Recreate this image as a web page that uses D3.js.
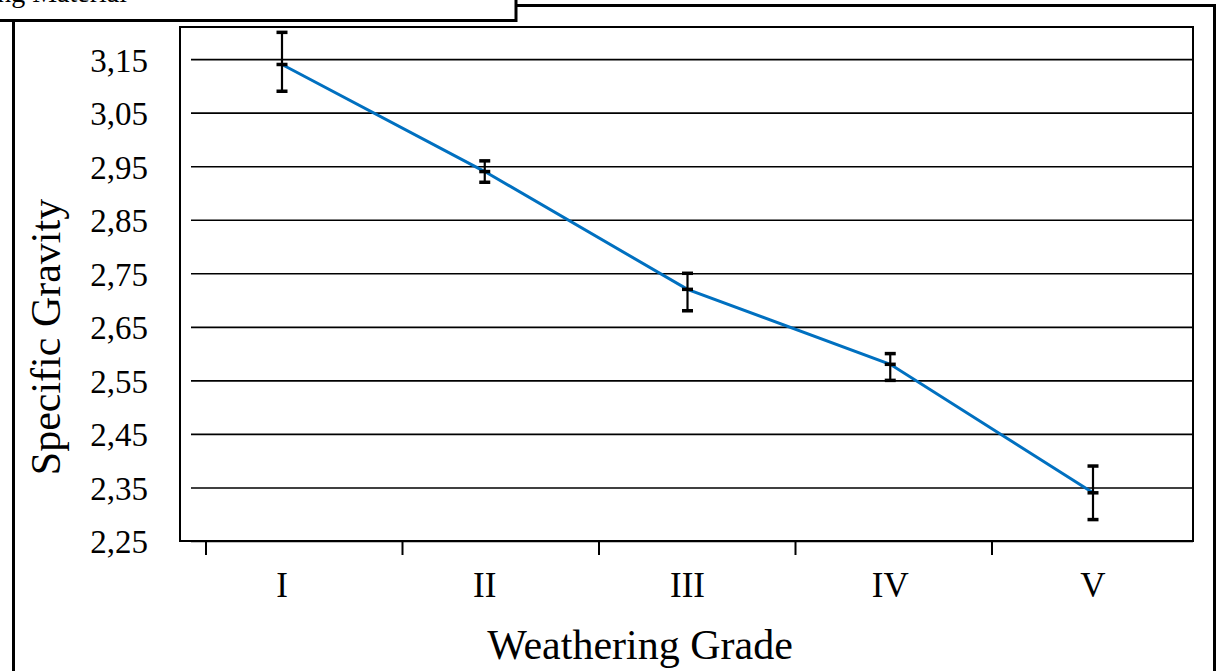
<!DOCTYPE html>
<html>
<head>
<meta charset="utf-8">
<script src="https://cdn.jsdelivr.net/npm/d3@7"></script>
<style>
  body { margin: 0; background: #fff; }
  svg { display: block; }
  text { font-family: "Liberation Serif", "Times New Roman", serif; fill: #000; }
</style>
</head>
<body>
<div id="chart"></div>
<script>
// --- data ---
const grades = ["I", "II", "III", "IV", "V"];
const gravity = [3.14, 2.94, 2.72, 2.58, 2.34];
const errLow = [3.09, 2.92, 2.68, 2.55, 2.29];
const errHigh = [3.20, 2.96, 2.75, 2.60, 2.39];
const yTicks = [2.25, 2.35, 2.45, 2.55, 2.65, 2.75, 2.85, 2.95, 3.05, 3.15];

// --- layout ---
let wSvg = 1218, hSvg = 671;
let plot = { left: 180, right: 1193, top: 27, bottom: 541 };

const svg = d3.select("#chart").append("svg")
    .attr("width", wSvg).attr("height", hSvg);

// outer frame
svg.append("rect")
    .attr("x", 13.5).attr("y", 5.5)
    .attr("width", 1201).attr("height", 700)
    .attr("fill", "none").attr("stroke", "#000").attr("stroke-width", 3);

// cropped title box top left (only the bottom of it is in the picture)
svg.append("rect")
    .attr("x", -10).attr("y", -20)
    .attr("width", 526).attr("height", 40.5)
    .attr("fill", "#fff").attr("stroke", "#000").attr("stroke-width", 3);
svg.append("text")
    .attr("x", 127).attr("y", 2)
    .attr("text-anchor", "end")
    .style("font-size", "28px")
    .text("Weathering Material");

const yScale = d3.scaleLinear()
    .domain([2.25, 3.21])
    .range([plot.bottom, plot.top]);

const xScale = d3.scalePoint()
    .domain(grades)
    .range([282, 1093]);

// tick marks on the category axis sit a bit off the categories
const xTickScale = d3.scaleLinear()
    .domain([0, grades.length - 1])
    .range([206, 992]);

// gridlines + y axis
const yAxis = svg.append("g")
    .attr("transform", `translate(${plot.left}, 0)`)
    .call(d3.axisLeft(yScale)
        .tickValues(yTicks)
        .tickSize(-(plot.right - plot.left))
        .tickFormat(d => d3.format(".2f")(d).replace(".", ",")));
yAxis.select(".domain").remove();
yAxis.selectAll(".tick line")
    .attr("x1", 11)
    .attr("stroke", "#000").attr("stroke-width", 1.6);
yAxis.selectAll(".tick text")
    .attr("x", -32).attr("dy", "0.36em")
    .style("font-size", "33px");

// plot border
svg.append("rect")
    .attr("x", plot.left).attr("y", plot.top)
    .attr("width", plot.right - plot.left).attr("height", plot.bottom - plot.top)
    .attr("fill", "none").attr("stroke", "#000").attr("stroke-width", 2);

// x tick marks
svg.append("g").selectAll("line")
    .data(grades)
    .enter()
    .append("line")
    .attr("x1", (d, i) => xTickScale(i)).attr("x2", (d, i) => xTickScale(i))
    .attr("y1", plot.bottom).attr("y2", plot.bottom + 14)
    .attr("stroke", "#000").attr("stroke-width", 2);

// x labels
svg.append("g").selectAll("text")
    .data(grades)
    .enter()
    .append("text")
    .attr("x", d => xScale(d))
    .attr("y", 597)
    .attr("text-anchor", "middle")
    .style("font-size", "35px")
    .text(d => d);

// line
const line = d3.line()
    .x((d, i) => xScale(grades[i]))
    .y(d => yScale(d));

svg.append("path")
    .datum(gravity)
    .attr("d", line)
    .attr("fill", "none")
    .attr("stroke", "#0070C0")
    .attr("stroke-width", 3);

// error bars
let capW = 11;
const bars = svg.append("g").selectAll("g")
    .data(grades)
    .enter()
    .append("g");

bars.append("line")
    .attr("x1", d => xScale(d)).attr("x2", d => xScale(d))
    .attr("y1", (d, i) => yScale(errHigh[i]))
    .attr("y2", (d, i) => yScale(errLow[i]))
    .attr("stroke", "#000").attr("stroke-width", 2.2);

for (let arr of [errHigh, errLow, gravity]) {
    bars.append("line")
        .attr("x1", d => xScale(d) - capW / 2).attr("x2", d => xScale(d) + capW / 2)
        .attr("y1", d => yScale(arr[grades.indexOf(d)]))
        .attr("y2", d => yScale(arr[grades.indexOf(d)]))
        .attr("stroke", "#000").attr("stroke-width", 3.5);
}

// axis titles
svg.append("text")
    .attr("x", 640).attr("y", 659)
    .attr("text-anchor", "middle")
    .style("font-size", "42px")
    .text("Weathering Grade");

svg.append("text")
    .attr("transform", "translate(60, 337) rotate(-90)")
    .attr("text-anchor", "middle")
    .style("font-size", "42px")
    .text("Specific Gravity");
</script>
</body>
</html>
